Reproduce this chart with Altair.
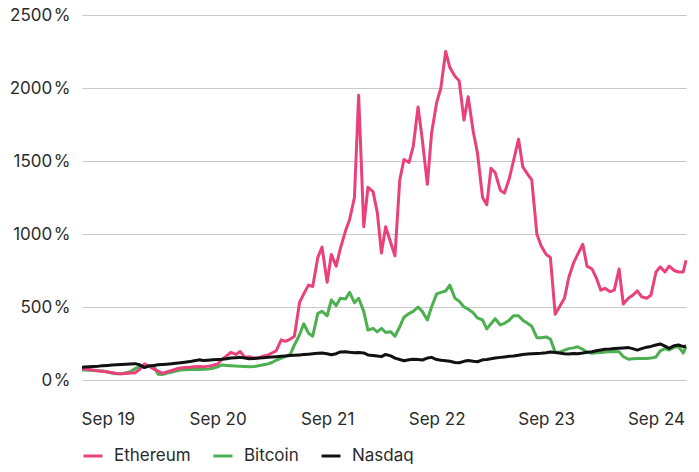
import altair as alt
import pandas as pd

# semi-monthly dates (plus first and last day of the series)
dates = (["2019-06-07"]
         + [d.strftime("%Y-%m-%d") for d in pd.date_range("2019-06-15", "2024-12-01", freq="SMS")]
         + ["2024-12-10"])

ethereum = [
    78, 76, 72, 68, 62, 60, 55, 50, 45, 42, 45, 48, 50, 70, 110, 95, 75, 62, 45, 55,
    65, 75, 82, 85, 88, 90, 92, 90, 95, 100, 110, 140, 165, 190, 175, 195, 155, 160, 150, 150,
    165, 170, 185, 200, 275, 265, 280, 300, 530, 590, 650, 640, 840, 910, 670, 860, 780, 900, 1020, 1100,
    1250, 1950, 1050, 1320, 1290, 1150, 870, 1050, 940, 850, 1370, 1510, 1490, 1600, 1870, 1650, 1340, 1690, 1900, 2000,
    2250, 2140, 2080, 2050, 1780, 1940, 1700, 1555, 1250, 1200, 1450, 1420, 1300, 1280, 1380, 1500, 1650, 1460, 1410, 1370,
    1000, 920, 860, 840, 450, 500, 560, 700, 800, 860, 930, 780, 760, 700, 615, 628, 605, 616, 760, 520,
    560, 580, 610, 570, 560, 580, 740, 775, 740, 780, 750, 740, 740, 820,
]

bitcoin = [
    70, 68, 66, 65, 64, 62, 55, 48, 42, 42, 50, 57, 78, 90, 100, 95, 100, 40, 38, 46,
    55, 62, 68, 70, 72, 72, 72, 73, 75, 80, 90, 103, 100, 98, 96, 95, 93, 90, 92, 98,
    105, 110, 120, 135, 150, 162, 175, 240, 310, 385, 320, 300, 457, 470, 440, 548, 510, 560, 555, 600,
    530, 560, 470, 342, 354, 330, 354, 325, 330, 300, 365, 430, 455, 470, 500, 470, 411, 500, 590, 600,
    610, 650, 560, 540, 500, 485, 460, 425, 411, 350, 385, 420, 377, 388, 410, 440, 440, 410, 388, 368,
    290, 290, 295, 280, 190, 190, 205, 215, 220, 228, 210, 190, 183, 186, 188, 192, 194, 195, 194, 160,
    142, 145, 148, 148, 148, 150, 158, 200, 215, 205, 225, 228, 185, 228,
]

nasdaq = [
    88, 89, 91, 93, 95, 98, 100, 102, 104, 106, 108, 110, 112, 105, 85, 96, 100, 104, 106, 108,
    111, 114, 118, 122, 126, 132, 138, 133, 136, 138, 140, 142, 146, 150, 153, 155, 150, 146, 148, 150,
    152, 155, 158, 160, 163, 165, 168, 170, 172, 174, 177, 180, 183, 185, 180, 173, 180, 192, 194, 190,
    187, 188, 185, 172, 168, 165, 160, 175, 165, 150, 140, 132, 138, 142, 140, 137, 150, 155, 140, 135,
    132, 128, 120, 118, 128, 133, 128, 125, 138, 141, 145, 150, 155, 158, 162, 164, 170, 175, 178, 180,
    182, 183, 187, 192, 188, 185, 180, 178, 182, 180, 185, 190, 194, 200, 205, 210, 212, 215, 218, 220,
    222, 215, 205, 215, 225, 230, 240, 247, 232, 217, 235, 240, 228, 233,
]

series_names = ["Ethereum", "Bitcoin", "Nasdaq"]
series_colors = ["#E8417B", "#4CAF50", "#111111"]
y_ticks = [0, 500, 1000, 1500, 2000, 2500]

frames = []
for name, vals in zip(series_names, [ethereum, bitcoin, nasdaq]):
    frames.append(pd.DataFrame({"date": dates, "value": vals, "series": name}))
df = pd.concat(frames, ignore_index=True)

FONT = "Inter"
FS = 17
TXT = "#2b2b2b"

x_enc = alt.X(
    "date:T",
    scale=alt.Scale(
        type="utc",
        domain=[alt.DateTime(year=2019, month=6, date=7, utc=True),
                alt.DateTime(year=2024, month=12, date=10, utc=True)],
    ),
    axis=alt.Axis(
        title=None,
        values=[alt.DateTime(year=y, month=9, date=1, utc=True) for y in range(2019, 2025)],
        format="%b %y",
        grid=False, domain=False, ticks=False,
        labelPadding=31, labelFlush=False, labelOverlap=False,
        labelFontSize=FS, labelColor=TXT, labelFont=FONT,
    ),
)
y_enc = alt.Y(
    "value:Q",
    scale=alt.Scale(domain=[0, 2500], nice=False),
    axis=alt.Axis(
        title=None, values=y_ticks,
        labelExpr="datum.value + '\u200a%'",
        grid=True, gridColor="#c8c8c8", gridWidth=1.2,
        domain=False, ticks=False, labelPadding=12,
        labelFontSize=FS, labelColor=TXT, labelFont=FONT,
    ),
)
color_enc = alt.Color(
    "series:N",
    scale=alt.Scale(domain=series_names, range=series_colors),
    legend=alt.Legend(
        title=None, orient="bottom", direction="horizontal",
        symbolType="stroke", symbolStrokeWidth=3, symbolSize=361,
        labelFontSize=FS, labelColor=TXT, labelFont=FONT,
        columnPadding=16, labelOffset=10, offset=18,
    ),
)

layers = []
for name in ["Bitcoin", "Ethereum", "Nasdaq"]:
    layers.append(
        alt.Chart(df)
        .transform_filter(alt.datum.series == name)
        .mark_line(strokeWidth=3, strokeJoin="round")
        .encode(x=x_enc, y=y_enc, color=color_enc)
    )

chart = (
    alt.layer(*layers)
    .properties(
        width=604, height=365,
        autosize=alt.AutoSizeParams(type="none"),
        padding={"left": 74, "top": 7, "right": 5, "bottom": 84},
    )
    .configure_view(stroke=None)
)

chart.save("out.html", embed_options={"renderer": "svg", "actions": False})
